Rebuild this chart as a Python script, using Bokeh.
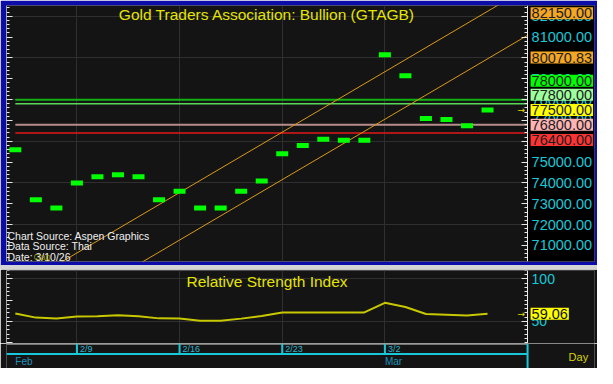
from bokeh.plotting import figure
from bokeh.models import (LinearAxis, FixedTicker, PrintfTickFormatter, Label,
                          ColumnDataSource, Range1d, Spacer, BoxAnnotation)
from bokeh.layouts import column
from bokeh.embed import file_html
from bokeh.resources import INLINE
from bokeh.core.properties import value

# ---------------- data ----------------
dates = ["2/4", "2/5", "2/6", "2/9", "2/10", "2/11", "2/12", "2/13", "2/16", "2/17", "2/18", "2/19",
         "2/20", "2/23", "2/24", "2/25", "2/26", "2/27", "3/2", "3/3", "3/4", "3/5", "3/6", "3/9"]
prices = [75600, 73200, 72800, 74000, 74300, 74400, 74300, 73200, 73600, 72800, 72800, 73600,
          74100, 75400, 75800, 76100, 76050, 76050, 80150, 79150, 77100, 77050, 76750, 77500]
rsi = [59.4, 54.5, 53.4, 55.8, 56.0, 57.2, 56.0, 53.6, 53.4, 50.8, 50.8, 53.3,
       56.3, 60.4, 60.6, 60.6, 60.6, 60.6, 71.9, 67.0, 58.7, 58.0, 57.0, 59.06]

week_starts = [3, 8, 13, 18]          # 2/9, 2/16, 2/23, 3/2
week_labels = ["2/9", "2/16", "2/23", "3/2"]
month_starts = [0, 18]
month_labels = ["Feb", "Mar"]

# trend channel (two parallel lines), ends at the right edge of the price area
channel_idx = [-1, 24.95]
channel_upper = [68320, 83371]
channel_lower = [66040, 81091]

# horizontal levels
levels = [78000, 77800, 76800, 76400]
level_colors = ["#12b012", "#5ad85a", "#b88c8c", "#e01818"]
level_widths = [2, 1.5, 2, 1.5]

# right-side value boxes
box_values = [82150.00, 80070.83, 78000.00, 77800.00, 77500.00, 76800.00, 76400.00]
box_colors = ["#f5a623", "#f5a623", "#00ff00", "#9cff9c", "#ffff00", "#ffb4b4", "#ff3333"]
box_shift = [0, -1, 19, 9, 0, 0, -7]   # screen px, for stacking only

price_ticks = [71000, 72000, 73000, 74000, 75000, 76000, 77000, 78000, 79000, 80000, 81000, 82000]
price_grid = [72000, 74000, 76000, 78000, 80000, 82000]
rsi_ticks = [50, 100]
rsi_last = 59.06

idx = list(range(len(dates)))

# ---------------- layout constants ----------------
BG = "#141414"
GRID = "#2f2f2f"
CYAN = "#19c8d8"
TICK = "#e8e8e8"
FONT = "Liberation Sans"
W = 597
LB, RB = 6, 3
X0, XA, X1 = -0.43, 24.95, 28.21     # data start, axis position, end of label area
xr = Range1d(X0, X1)
FW_DATA = 521


def edge_axis(ticks, minor, loc):
    # tick comb drawn inside the frame, without labels
    return LinearAxis(ticker=FixedTicker(ticks=ticks, minor_ticks=minor), fixed_location=loc,
                      major_label_text_color=None, major_label_standoff=0,
                      major_tick_in=6, major_tick_out=0, minor_tick_in=3, minor_tick_out=0,
                      axis_line_color=TICK, major_tick_line_color=TICK,
                      minor_tick_line_color=TICK)


# ---------------- top panel ----------------
TOP_H = 265
p = figure(width=W, height=TOP_H, x_range=xr, y_range=Range1d(70230, 82520),
           output_backend="svg", toolbar_location=None, x_axis_location=None, y_axis_location=None,
           min_border_left=LB, min_border_right=RB, min_border_top=5, min_border_bottom=4,
           background_fill_color=BG, border_fill_color="#0c0ca8", outline_line_color=None)

p.xgrid.ticker = FixedTicker(ticks=week_starts)
p.ygrid.ticker = FixedTicker(ticks=price_grid)
for g in (p.xgrid, p.ygrid):
    g.grid_line_color = GRID
    g.grid_line_width = 1
p.add_layout(BoxAnnotation(left=XA, fill_color="#000000", fill_alpha=1, line_color=None,
                           level="underlay"))

minor_p = list(range(70400, 82600, 200))
p.add_layout(edge_axis(price_ticks, minor_p, X0), "left")

right = LinearAxis(ticker=FixedTicker(ticks=price_ticks, minor_ticks=minor_p),
                   formatter=PrintfTickFormatter(format="%.2f"), fixed_location=XA,
                   major_label_text_font_size="14.5px", major_label_text_font=FONT,
                   major_label_text_color=CYAN, major_label_standoff=4,
                   major_tick_in=6, major_tick_out=0, minor_tick_in=3, minor_tick_out=0,
                   axis_line_color=TICK, major_tick_line_color=TICK,
                   minor_tick_line_color=TICK)
p.add_layout(right, "right")

# levels
lsrc = ColumnDataSource(dict(y=levels, c=level_colors, w=level_widths,
                             x0=[0] * len(levels), x1=[XA] * len(levels)))
p.segment(x0="x0", x1="x1", y0="y", y1="y", color="c", line_width="w", source=lsrc)

# channel
p.line(channel_idx, channel_upper, color="#dc9a18", line_width=1)
p.line(channel_idx, channel_lower, color="#dc9a18", line_width=1)

# price markers
p.rect(x=idx, y=prices, width=12, height=5, width_units="screen", height_units="screen",
       fill_color="#00ff00", line_color=None)

# title
p.add_layout(Label(x=FW_DATA / 2, y=TOP_H - 9 - 9, x_units="screen", y_units="screen",
                   text="Gold Traders Association: Bullion (GTAGB)", text_align="center",
                   text_baseline="middle", text_color="#e4e400", text_font_size="15.5px",
                   text_font=FONT))

# source notes
notes = ["Chart Source: Aspen Graphics", "Data Source: Thai", "Date: 3/10/26"]
for i, t in enumerate(notes):
    p.add_layout(Label(x=1, y=26 - 10.6 * i, x_units="screen", y_units="screen", text=t,
                       text_align="left", text_baseline="middle", text_color="#f0f0f0",
                       text_font_size="10.5px", text_font=FONT))
p.add_layout(Label(x=27, y=4.8, x_units="screen", y_units="screen", text="Gap",
                   text_align="left", text_baseline="middle", text_color="#a8a800",
                   text_font_size="9px", text_font=FONT, text_alpha=0.85))

# value boxes on the right
for v, c, s in zip(box_values, box_colors, box_shift):
    p.add_layout(Label(x=XA, y=v, x_offset=3, y_offset=s, text="%.2f" % v,
                       text_align="left", text_baseline="middle", text_color="#202020",
                       text_font_size="14.5px", text_font=FONT,
                       background_fill_color=c, padding=1))

p.add_layout(Label(x=XA, y=prices[-1], x_offset=-10, text="→",
                   text_align="left", text_baseline="middle", text_color="#e0e000",
                   text_font_size="9px", text_font="DejaVu Sans"))

# ---------------- bottom panel (RSI) ----------------
RSI_H = 74
r = figure(width=W, height=RSI_H, x_range=xr, y_range=Range1d(24, 110),
           output_backend="svg", toolbar_location=None, x_axis_location=None, y_axis_location=None,
           min_border_left=LB, min_border_right=RB, min_border_top=1, min_border_bottom=0,
           background_fill_color=BG, border_fill_color=BG, outline_line_color=None)

r.xgrid.ticker = FixedTicker(ticks=week_starts)
r.ygrid.ticker = FixedTicker(ticks=rsi_ticks)
for g in (r.xgrid, r.ygrid):
    g.grid_line_color = GRID
    g.grid_line_width = 1
r.add_layout(BoxAnnotation(left=XA, fill_color=BG, fill_alpha=1, line_color=None,
                           level="underlay"))

minor_r = list(range(25, 111, 5))
r.add_layout(edge_axis([25, 50, 75, 100], minor_r, X0), "left")
rr = LinearAxis(ticker=FixedTicker(ticks=rsi_ticks, minor_ticks=minor_r), fixed_location=XA,
                major_label_text_font_size="14px", major_label_text_font=FONT,
                major_label_text_color=CYAN, major_label_standoff=4,
                major_tick_in=6, major_tick_out=0, minor_tick_in=3, minor_tick_out=0,
                axis_line_color=TICK, major_tick_line_color=TICK,
                minor_tick_line_color=TICK)
r.add_layout(rr, "right")

r.line(idx, rsi, color="#c8c800", line_width=2)

r.add_layout(Label(x=FW_DATA / 2, y=RSI_H - 1 - 11, x_units="screen", y_units="screen",
                   text="Relative Strength Index", text_align="center",
                   text_baseline="middle", text_color="#e4e400", text_font_size="15.5px",
                   text_font=FONT))
r.add_layout(Label(x=XA, y=rsi_last, x_offset=3, text="%.2f" % rsi_last,
                   text_align="left", text_baseline="middle", text_color="#101010",
                   text_font_size="14.5px", text_font=FONT, background_fill_color="#ffff00",
                   padding=1))
r.add_layout(Label(x=XA, y=rsi_last, x_offset=-10, text="→",
                   text_align="left", text_baseline="middle", text_color="#e0e000",
                   text_font_size="9px", text_font="DejaVu Sans"))

# ---------------- date strip ----------------
STRIP_H = 25
d = figure(width=W, height=STRIP_H, x_range=xr, y_range=Range1d(0, STRIP_H),
           output_backend="svg", toolbar_location=None, x_axis_location=None, y_axis_location=None,
           min_border_left=LB, min_border_right=RB, min_border_top=0, min_border_bottom=0,
           background_fill_color=BG, border_fill_color=BG, outline_line_color=None)
d.grid.visible = False
ROW = 14.5
# frame bottom line of the RSI panel
d.segment(x0=[X0], x1=[XA], y0=[STRIP_H - 0.5], y1=[STRIP_H - 0.5], color="#d8d8d8", line_width=1)
# week ticks and labels
d.segment(x0=week_starts, x1=week_starts, y0=[ROW] * 4, y1=[STRIP_H] * 4, color=CYAN, line_width=2)
d.text(x=week_starts, y=[(ROW + STRIP_H) / 2] * 4, text=week_labels, x_offset=3,
       text_align="left", text_baseline="middle", text_color="#2eb4cc",
       text_font_size="9px", text_font=value(FONT))
# row separator and right edge
d.segment(x0=[X0], x1=[XA], y0=[ROW], y1=[ROW], color=CYAN, line_width=2)
d.segment(x0=[XA], x1=[XA], y0=[0], y1=[STRIP_H], color=CYAN, line_width=2)
# months
d.text(x=month_starts, y=[ROW / 2] * 2, text=month_labels,
       text_align="left", text_baseline="middle", text_color="#1f92b8",
       text_font_size="10px", text_font=value(FONT))
d.text(x=[XA], y=[12], text=["Day"], x_offset=41, text_align="left", text_baseline="middle",
       text_color="#d4d400", text_font_size="11px", text_font=value(FONT))

sep = Spacer(width=W, height=4, styles={"background-color": "#d4d4d4"})
layout = column(p, sep, r, d, spacing=0)

open("out.html", "w").write(file_html(layout, INLINE))
